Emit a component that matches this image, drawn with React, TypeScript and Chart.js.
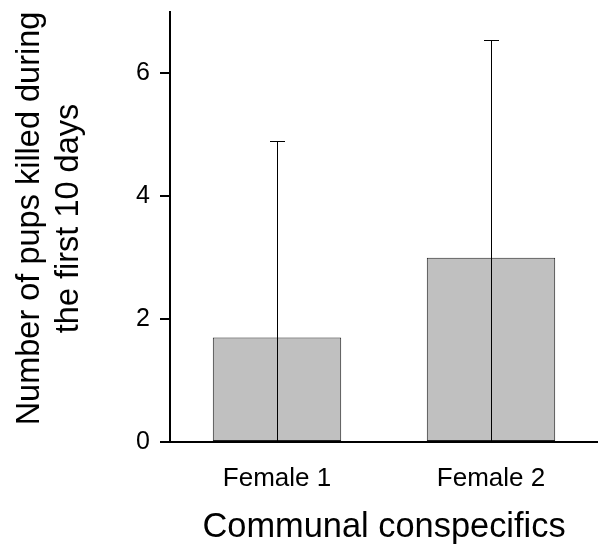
import React, { useEffect, useRef } from "react";
import { Chart, registerables } from "chart.js";

Chart.register(...registerables);

const categories = ["Female 1", "Female 2"];
const meanValues = [1.7, 3.0];
const errorUpper = [4.9, 6.55];
const yTickValues = [0, 2, 4, 6];
const yMin = 0;
const yMax = 7;
const yTitle = ["Number of pups killed during", "the first 10 days"];
const xTitle = "Communal conspecifics";

const FONT = "'Liberation Sans', Arial, Helvetica, sans-serif";

const errorBarPlugin = {
  id: "errorBars",
  afterDatasetsDraw(chart: any) {
    const ctx = chart.ctx;
    const meta = chart.getDatasetMeta(0);
    const yScale = chart.scales.y;
    ctx.save();
    ctx.strokeStyle = "#000";
    ctx.lineWidth = 1;
    meta.data.forEach((el: any, i: number) => {
      const x = Math.round(el.x) + 0.5;
      const yBase = yScale.getPixelForValue(0);
      const yTop = Math.round(yScale.getPixelForValue(errorUpper[i])) + 0.5;
      ctx.beginPath();
      ctx.moveTo(x, yBase);
      ctx.lineTo(x, yTop);
      ctx.moveTo(x - 7.5, yTop);
      ctx.lineTo(x + 7.5, yTop);
      ctx.stroke();
    });
    ctx.restore();
  },
};

const yTitlePlugin = {
  id: "yTitle",
  afterDraw(chart: any) {
    const ctx = chart.ctx;
    const size = 32.5;
    const lineH = size * 1.2;
    const cy = (chart.chartArea.top + chart.chartArea.bottom) / 2 - 8.5;
    ctx.save();
    ctx.fillStyle = "#000";
    ctx.font = `${size}px ${FONT}`;
    ctx.textAlign = "center";
    ctx.textBaseline = "middle";
    yTitle.forEach((line, i) => {
      ctx.save();
      ctx.translate(11 + lineH / 2 + i * lineH, cy);
      ctx.rotate(-Math.PI / 2);
      ctx.fillText(line, 0, 0);
      ctx.restore();
    });
    ctx.restore();
  },
};

export default function App() {
  const ref = useRef<HTMLCanvasElement | null>(null);

  useEffect(() => {
    if (!ref.current) return;
    const chart = new Chart(ref.current, {
      type: "bar",
      data: {
        labels: categories,
        datasets: [
          {
            data: meanValues,
            backgroundColor: "#c0c0c0",
            borderColor: "#222",
            borderWidth: 1,
            borderSkipped: false,
            barPercentage: 0.6,
            categoryPercentage: 1,
          },
        ],
      },
      options: {
        responsive: false,
        animation: false,
        layout: { padding: { left: 0, top: 12, right: 0, bottom: 0 } },
        plugins: {
          legend: { display: false },
          tooltip: { enabled: false },
        },
        scales: {
          x: {
            grid: { display: true, drawOnChartArea: false, drawTicks: false },
            border: { display: true, color: "#000", width: 2 },
            ticks: {
              color: "#000",
              padding: 21,
              font: { family: FONT, size: 26 },
            },
            title: {
              display: true,
              text: xTitle,
              color: "#000",
              font: { family: FONT, size: 34.4, lineHeight: 1.2 },
              padding: { top: 0, bottom: 7 },
            },
            afterFit(scale: any) {
              scale.height = 555 - 442;
              scale.paddingLeft = 0;
              scale.paddingRight = 0;
            },
          },
          y: {
            min: yMin,
            max: yMax,
            afterBuildTicks(axis: any) {
              axis.ticks = yTickValues.map((v) => ({ value: v }));
            },
            grid: {
              display: true,
              drawOnChartArea: false,
              drawTicks: true,
              tickLength: 10,
              color: "#000",
              lineWidth: 2,
            },
            border: { display: true, color: "#000", width: 2 },
            ticks: {
              color: "#000",
              padding: 10,
              font: { family: FONT, size: 25 },
            },
            title: { display: false },
            afterFit(scale: any) {
              scale.width = 170;
              scale.paddingTop = 0;
              scale.paddingBottom = 0;
            },
          },
        },
      },
      plugins: [errorBarPlugin, yTitlePlugin],
    });
    return () => chart.destroy();
  }, []);

  return (
    <div style={{ position: "fixed", left: 0, top: 0, width: 598, height: 555, background: "#fff" }}>
      <canvas ref={ref} width={598} height={555} style={{ display: "block" }} />
    </div>
  );
}
